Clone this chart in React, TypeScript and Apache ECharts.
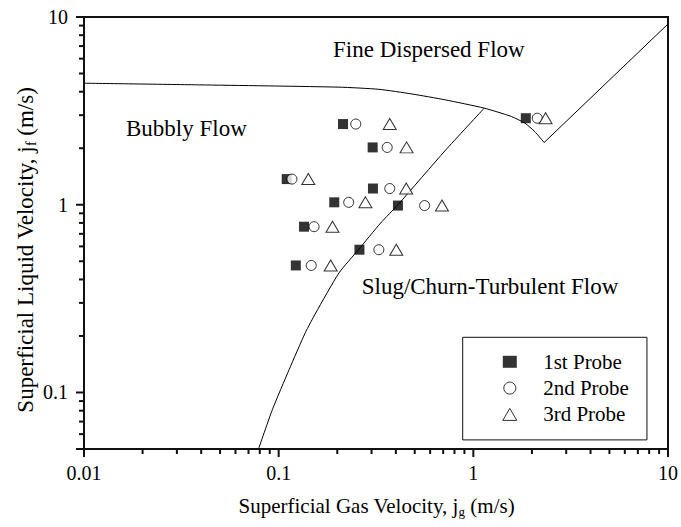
import React, { useEffect, useRef } from 'react';
import * as echarts from 'echarts';

const FONT = '"Liberation Serif", "Times New Roman", serif';

// Superficial liquid velocity for each measurement row (m/s)
const jf = [2.69, 2.02, 1.37, 1.22, 1.03, 0.99, 0.764, 0.576, 0.475, 2.89];
// Superficial gas velocity for each probe (m/s)
const jg1 = [0.214, 0.304, 0.11, 0.305, 0.193, 0.41, 0.135, 0.26, 0.1225, 1.86];
const jg2 = [0.249, 0.361, 0.117, 0.372, 0.229, 0.562, 0.152, 0.327, 0.147, 2.13];
const jg3 = [0.372, 0.454, 0.142, 0.452, 0.279, 0.69, 0.189, 0.402, 0.185, 2.35];

// Flow regime boundaries [jg, jf]
const dispersedBoundaryJg = [0.01, 0.0392, 0.204, 0.327, 0.484, 0.717, 1.138, 1.57, 1.84, 2.07, 2.31];
const dispersedBoundaryJf = [4.44, 4.35, 4.23, 4.12, 3.89, 3.62, 3.27, 2.95, 2.72, 2.45, 2.145];
const rightBoundaryJg = [2.31, 10];
const rightBoundaryJf = [2.145, 9.18];
const slugBoundaryJg = [1.138, 0.717, 0.41, 0.334, 0.257, 0.204, 0.155, 0.137, 0.1132, 0.0929, 0.0788];
const slugBoundaryJf = [3.27, 1.944, 1.0, 0.799, 0.576, 0.433, 0.265, 0.208, 0.1325, 0.0812, 0.05];

const seriesNames = ['1st Probe', '2nd Probe', '3rd Probe'];
const xTickLabels = ['0.01', '0.1', '1', '10'];
const yTickLabels = ['0.1', '1', '10'];
const xMajorTicks = [0.01, 0.1, 1, 10];
const yMajorTicks = [0.05, 0.1, 1, 10];
const xMinorTicks = [0.02, 0.03, 0.04, 0.05, 0.06, 0.07, 0.08, 0.09, 0.2, 0.3, 0.4, 0.5, 0.6, 0.7, 0.8, 0.9, 2, 3, 4, 5, 6, 7, 8, 9];
const yMinorTicks = [0.06, 0.07, 0.08, 0.09, 0.2, 0.3, 0.4, 0.5, 0.6, 0.7, 0.8, 0.9, 2, 3, 4, 5, 6, 7, 8, 9];

const X_MIN = 0.01, X_MAX = 10, Y_MIN = 0.05, Y_MAX = 10;

const zip = (a: number[], b: number[]) => a.map((v, i) => [v, b[i]]);
const fmt = (list: string[]) => (v: number) => {
  const s = String(Number(Number(v).toPrecision(6)));
  return list.includes(s) ? s : '';
};

const AXIS_COLOR = '#111';
const MAJOR_LEN = 8;
const MINOR_LEN = 5;

const textGraphics = [
  { type: 'text', x: 333, y: 49.5, silent: true, style: { text: 'Fine Dispersed Flow', fontFamily: FONT, fontSize: 23, fill: '#000', verticalAlign: 'middle' } },
  { type: 'text', x: 126, y: 128, silent: true, style: { text: 'Bubbly Flow', fontFamily: FONT, fontSize: 23, fill: '#000', verticalAlign: 'middle' } },
  { type: 'text', x: 361.7, y: 286, silent: true, style: { text: 'Slug/Churn-Turbulent Flow', fontFamily: FONT, fontSize: 23, fill: '#000', verticalAlign: 'middle' } },
  {
    type: 'text', x: 376.5, y: 506, silent: true,
    style: {
      text: '{m|Superficial Gas Velocity, j}{s|g}{m| (m/s)}',
      align: 'center', verticalAlign: 'middle', fill: '#000',
      rich: {
        m: { fontFamily: FONT, fontSize: 21, lineHeight: 24, fill: '#000' },
        s: { fontFamily: FONT, fontSize: 13, lineHeight: 14, padding: [10, 0, 0, 0], fill: '#000' },
      },
    },
  },
  {
    type: 'text', x: 25.5, y: 250, rotation: Math.PI / 2, silent: true,
    style: {
      text: '{m|Superficial Liquid Velocity, j}{s|f}{m| (m/s)}',
      align: 'center', verticalAlign: 'middle', fill: '#000',
      rich: {
        m: { fontFamily: FONT, fontSize: 23, lineHeight: 26, fill: '#000' },
        s: { fontFamily: FONT, fontSize: 14, lineHeight: 15, padding: [11, 0, 0, 0], fill: '#000' },
      },
    },
  },
];

export default function App() {
  const ref = useRef<HTMLDivElement>(null);
  useEffect(() => {
    if (!ref.current) return;
    const chart = echarts.init(ref.current, null, { renderer: 'svg' });
    const lineBase = {
      type: 'line',
      symbol: 'none',
      showSymbol: false,
      silent: true,
      smooth: 0.2,
      lineStyle: { color: '#000', width: 1 },
      emphasis: { disabled: true },
      z: 2,
    };
    const option: any = {
      animation: false,
      grid: {
        left: 84, top: 17, right: 11, bottom: 78,
        show: true, borderColor: AXIS_COLOR, borderWidth: 2,
      },
      xAxis: {
        type: 'log', logBase: 10, min: X_MIN, max: X_MAX,
        axisLine: { show: true, lineStyle: { color: AXIS_COLOR, width: 2 } },
        axisTick: { show: false },
        axisLabel: { show: true, margin: 14, fontFamily: FONT, fontSize: 20, color: '#000', formatter: fmt(xTickLabels) },
        splitLine: { show: false },
      },
      yAxis: {
        type: 'log', logBase: 10, min: Y_MIN, max: Y_MAX,
        axisLine: { show: true, lineStyle: { color: AXIS_COLOR, width: 2 } },
        axisTick: { show: false },
        axisLabel: { show: true, margin: 16, fontFamily: FONT, fontSize: 20, color: '#000', formatter: fmt(yTickLabels), showMinLabel: false },
        splitLine: { show: false },
      },
      legend: {
        data: seriesNames,
        orient: 'vertical',
        left: 462.7, top: 337.3,
        padding: [14, 18, 15, 39.6],
        itemGap: 5.3, itemWidth: 14, itemHeight: 12,
        symbolKeepAspect: true,
        borderColor: AXIS_COLOR, borderWidth: 1, borderRadius: 0,
        backgroundColor: '#fff',
        selectedMode: false,
        itemStyle: { borderWidth: 1 },
        textStyle: { fontFamily: FONT, fontSize: 21, color: '#000', padding: [0, 0, 0, 21.4] },
      },
      series: [
        { ...lineBase, name: 'dispersed', data: zip(dispersedBoundaryJg, dispersedBoundaryJf) },
        { ...lineBase, name: 'right', smooth: false, data: zip(rightBoundaryJg, rightBoundaryJf) },
        { ...lineBase, name: 'slug', data: zip(slugBoundaryJg, slugBoundaryJf) },
        {
          type: 'scatter', name: seriesNames[0], data: zip(jg1, jf),
          symbol: 'rect', symbolSize: 10,
          itemStyle: { color: '#000', borderWidth: 0 }, emphasis: { disabled: true }, z: 3,
        },
        {
          type: 'scatter', name: seriesNames[1], data: zip(jg2, jf),
          symbol: 'circle', symbolSize: 10,
          itemStyle: { color: '#fff', borderColor: '#000', borderWidth: 1 }, emphasis: { disabled: true }, z: 3,
        },
        {
          type: 'scatter', name: seriesNames[2], data: zip(jg3, jf),
          symbol: 'triangle', symbolSize: [13, 11],
          itemStyle: { color: '#fff', borderColor: '#000', borderWidth: 1 }, emphasis: { disabled: true }, z: 3,
        },
      ],
      graphic: { elements: textGraphics },
    };
    chart.setOption(option);

    // Axis ticks placed through the chart's own log scales
    const ticks: any[] = [];
    const xTick = (v: number, len: number) => {
      const p = chart.convertToPixel({ gridIndex: 0 }, [v, Y_MIN]) as number[];
      if (p && isFinite(p[0]) && isFinite(p[1])) {
        ticks.push({ type: 'line', z: 100, silent: true, shape: { x1: p[0], y1: p[1], x2: p[0], y2: p[1] + len }, style: { stroke: AXIS_COLOR, lineWidth: 2 } });
      }
    };
    const yTick = (v: number, len: number) => {
      const p = chart.convertToPixel({ gridIndex: 0 }, [X_MIN, v]) as number[];
      if (p && isFinite(p[0]) && isFinite(p[1])) {
        ticks.push({ type: 'line', z: 100, silent: true, shape: { x1: p[0] - len, y1: p[1], x2: p[0], y2: p[1] }, style: { stroke: AXIS_COLOR, lineWidth: 2 } });
      }
    };
    xMajorTicks.forEach((v) => xTick(v, MAJOR_LEN));
    xMinorTicks.forEach((v) => xTick(v, MINOR_LEN));
    yMajorTicks.forEach((v) => yTick(v, MAJOR_LEN));
    yMinorTicks.forEach((v) => yTick(v, MINOR_LEN));
    chart.setOption({ graphic: { elements: [...textGraphics, ...ticks] } });
    return () => chart.dispose();
  }, []);
  return <div ref={ref} style={{ position: 'fixed', left: 0, top: 0, width: 681, height: 527, background: '#fff' }} />;
}
